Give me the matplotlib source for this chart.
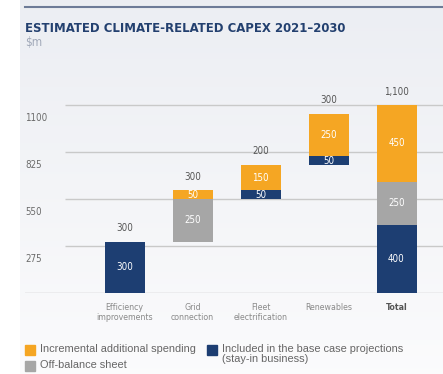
import numpy as np
import matplotlib.pyplot as plt
from matplotlib.patches import Rectangle
from matplotlib.lines import Line2D
from matplotlib import font_manager

# Chart data ($m)
categories = ['Efficiency\nimprovements', 'Grid\nconnection', 'Fleet\nelectrification', 'Renewables', 'Total']
starts = [0, 300, 550, 750, 0]
base_case = [300, 0, 50, 50, 400]       # included in the base case projections
off_balance = [0, 250, 0, 0, 250]        # off-balance sheet
incremental = [0, 50, 150, 250, 450]     # incremental additional spending
total_labels = ['300', '300', '200', '300', '1,100']
yticks = [275, 550, 825, 1100]

ORANGE = '#f5a623'
GREY = '#a6a6a6'
NAVY = '#1d3e72'

names = {f.name for f in font_manager.fontManager.ttflist}
if 'Liberation Sans Narrow' in names:
    NARROW = ['Liberation Sans Narrow', 'DejaVu Sans']
    STRETCH = 'normal'
else:
    NARROW = ['DejaVu Sans']
    STRETCH = 'condensed'

W, H = 443, 374
fig = plt.figure(figsize=(W / 100, H / 100), dpi=100)
fig.patch.set_facecolor('white')

# light background gradient
bg = fig.add_axes([20 / W, 0, 1 - 20 / W, 1], zorder=-10)
grad = np.linspace(0, 1, 256).reshape(-1, 1)
top_c = np.array([0.925, 0.933, 0.952])
bot_c = np.array([0.985, 0.985, 0.99])
img = top_c + (bot_c - top_c) * grad[..., None]
bg.imshow(img, aspect='auto', extent=[0, 1, 0, 1], origin='upper')
bg.axis('off')

def px(x, y):
    return x / W, 1 - y / H

# top rule
fig.add_artist(Line2D([25 / W, 1], [1 - 7 / H] * 2, color='#6d7b97', lw=1.5))

fig.text(*px(25, 28), 'ESTIMATED CLIMATE-RELATED CAPEX 2021\u20132030', family=NARROW,
         stretch=STRETCH, fontweight='bold', fontsize=9.4, color='#23406f', va='center', ha='left')
fig.text(*px(25, 43), '$m', family=NARROW, stretch=STRETCH, fontsize=8.5, color='#a0a8b8',
         va='center', ha='left')

# main axes: baseline at y=293px, 1100 at y=105px
ax = fig.add_axes([25 / W, (H - 293) / H, 1 - 25 / W, 200 / H])
ax.set_facecolor('none')
x0 = (25 - 124.5) / 68
x1 = (443 - 124.5) / 68
ax.set_xlim(x0, x1)
ax.set_ylim(0, 200 * 275 / 47)
for s in ax.spines.values():
    s.set_visible(False)
ax.set_xticks([])
ax.set_yticks([])
ax.axhline(0, color='#bfbfbf', lw=1, zorder=1)
grid_start = (65 - 124.5) / 68
ax.hlines(yticks, grid_start, x1, color='#c9c9c9', lw=1, zorder=1)
per_px = 275 / 47
for v in yticks:
    ax.text(x0, v - 13 * per_px, str(v), family=NARROW, stretch=STRETCH, fontsize=7,
            color='#6b6b6b', va='center', ha='left')

x = np.arange(len(categories))
bw = 40 / 68
b1 = np.array(starts)
ax.bar(x, base_case, bw, bottom=b1, color=NAVY, zorder=3)
b2 = b1 + np.array(base_case)
ax.bar(x, off_balance, bw, bottom=b2, color=GREY, zorder=3)
b3 = b2 + np.array(off_balance)
ax.bar(x, incremental, bw, bottom=b3, color=ORANGE, zorder=3)
tops = b3 + np.array(incremental)

for i in x:
    for bottom, val in [(b1[i], base_case[i]), (b2[i], off_balance[i]), (b3[i], incremental[i])]:
        if val > 0:
            ax.text(i, bottom + val / 2, str(val), family=NARROW, stretch=STRETCH, fontsize=7,
                    color='white', ha='center', va='center', zorder=4)
    ax.text(i, tops[i] + 13.5 * per_px, total_labels[i], family=NARROW, stretch=STRETCH,
            fontsize=7, color='#555555', ha='center', va='center')
    last = i == len(categories) - 1
    ax.text(i, -10 * per_px, categories[i], family=NARROW, stretch=STRETCH, fontsize=6.3,
            color='#555555' if last else '#8a8a8a', fontweight='bold' if last else 'normal',
            ha='center', va='top', linespacing=1.1)

# legend
legend_items = [
    (25, 350, ORANGE, 'Incremental additional spending'),
    (207, 350, NAVY, 'Included in the base case projections\n(stay-in business)'),
    (25, 366, GREY, 'Off-balance sheet'),
]
for lx, ly, c, lab in legend_items:
    fig.add_artist(Rectangle(px(lx, ly + 5), 10 / W, 10 / H, color=c, transform=fig.transFigure))
    fig.text(*px(lx + 15, ly - 5.5), lab, fontsize=7.9, color='#666666', ha='left', va='top',
             family=['Liberation Sans', 'DejaVu Sans'], linespacing=1.0)

fig.savefig('out.png', dpi=100)
